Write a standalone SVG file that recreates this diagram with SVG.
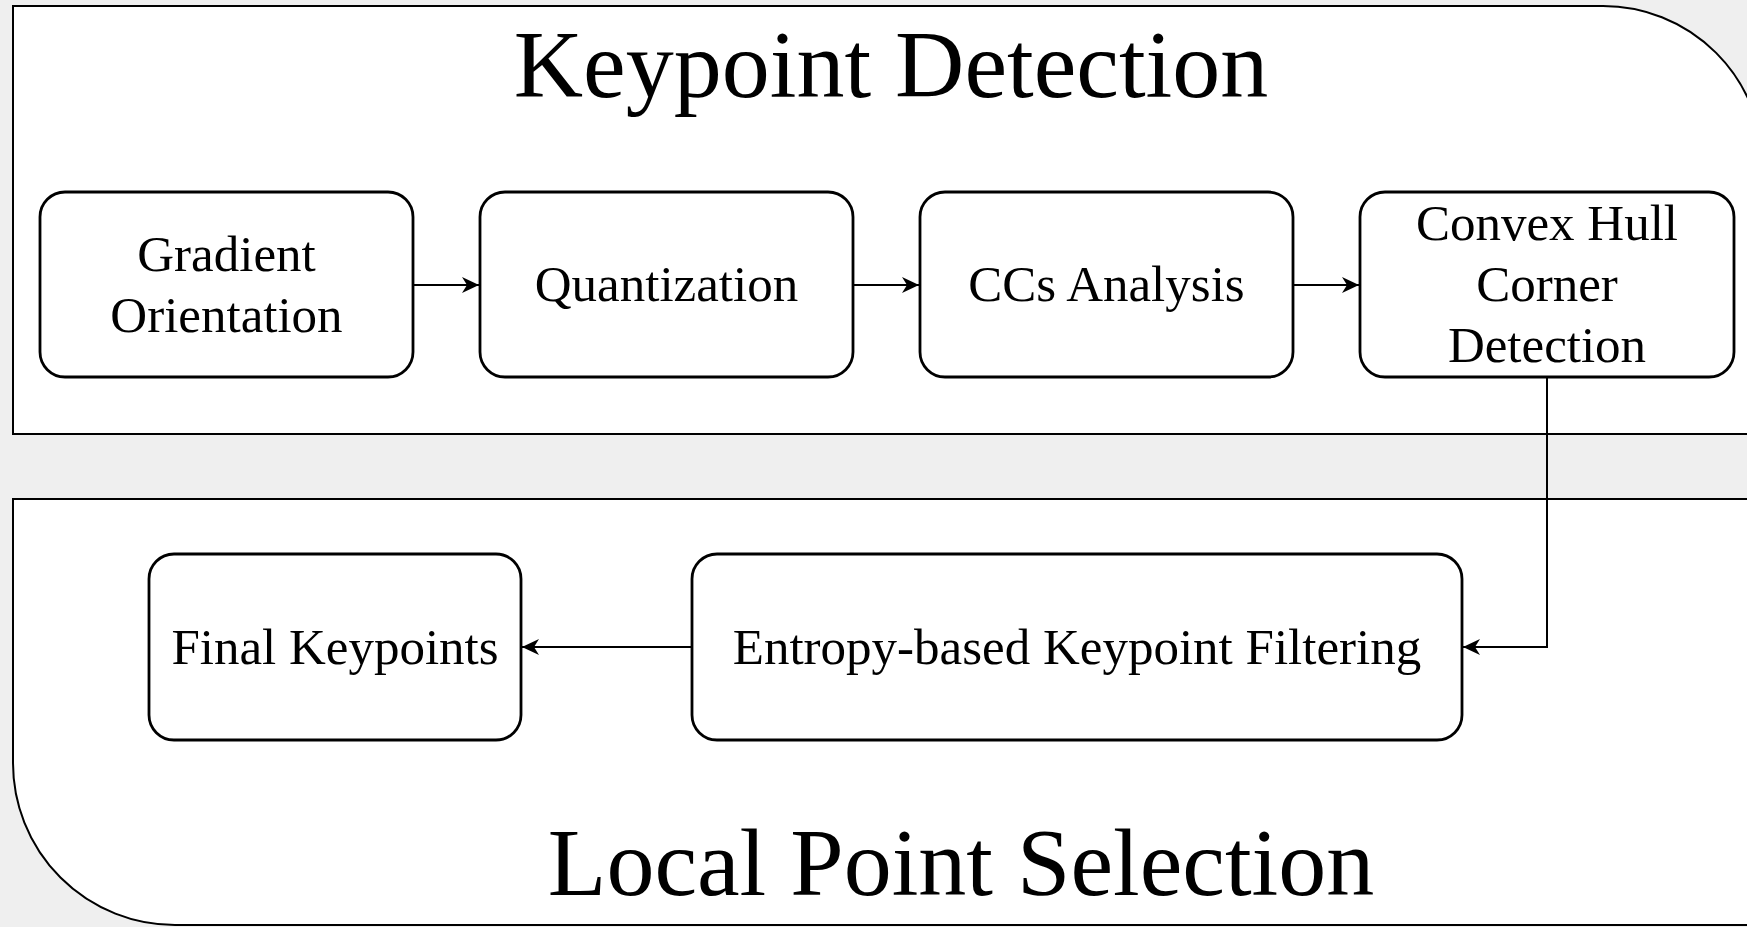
<svg xmlns="http://www.w3.org/2000/svg" width="1747" height="927" viewBox="0 0 1747 927">
  <defs>
    <marker id="arrow" markerUnits="userSpaceOnUse" markerWidth="20" markerHeight="20" viewBox="-18 -10 20 20" refX="0" refY="0" orient="auto">
      <path d="M0,0 L-17,-8 L-12,0 L-17,8 Z" fill="#000"/>
    </marker>
  </defs>
  <style>
    .panel { fill: #ffffff; stroke: #000; stroke-width: 2; }
    .node rect { fill: #ffffff; stroke: #000; stroke-width: 2.8; }
    .label { font-family: "Liberation Serif", "Times New Roman", serif; font-size: 51px; fill: #000; text-anchor: middle; }
    .title { font-family: "Liberation Serif", "Times New Roman", serif; font-size: 96px; fill: #000; text-anchor: middle; }
    .edge { fill: none; stroke: #000; stroke-width: 2; marker-end: url(#arrow); }
  </style>
  <rect x="0" y="0" width="1747" height="927" fill="#efefef"/>

  <g id="panel-keypoint-detection">
    <path class="panel" d="M13,6 H1603 A160,160 0 0 1 1763,166 V434 H13 Z"/>
    <text class="title" x="891" y="97">Keypoint Detection</text>
  </g>
  <g id="panel-local-point-selection">
    <path class="panel" d="M13,499 H1770 V925 H175 A162,162 0 0 1 13,763 Z"/>
    <text class="title" x="961" y="895">Local Point Selection</text>
  </g>

  <g id="node-gradient" class="node">
    <rect x="40" y="192" width="373" height="185" rx="25" ry="25"/>
    <text class="label" x="226.5" y="270.5">Gradient</text>
    <text class="label" x="226.5" y="331.5">Orientation</text>
  </g>
  <g id="node-quantization" class="node">
    <rect x="480" y="192" width="373" height="185" rx="25" ry="25"/>
    <text class="label" x="666.5" y="301">Quantization</text>
  </g>
  <g id="node-ccs" class="node">
    <rect x="920" y="192" width="373" height="185" rx="25" ry="25"/>
    <text class="label" x="1106.5" y="301">CCs Analysis</text>
  </g>
  <g id="node-convex" class="node">
    <rect x="1360" y="192" width="374" height="185" rx="25" ry="25"/>
    <text class="label" x="1547" y="240">Convex Hull</text>
    <text class="label" x="1547" y="301">Corner</text>
    <text class="label" x="1547" y="362">Detection</text>
  </g>
  <g id="node-entropy" class="node">
    <rect x="692" y="554" width="770" height="186" rx="25" ry="25"/>
    <text class="label" x="1077" y="663.5">Entropy-based Keypoint Filtering</text>
  </g>
  <g id="node-final" class="node">
    <rect x="149" y="554" width="372" height="186" rx="25" ry="25"/>
    <text class="label" x="335" y="663.5">Final Keypoints</text>
  </g>

  <g id="connectors">
    <path class="edge" d="M413,285 H479"/>
    <path class="edge" d="M853,285 H919"/>
    <path class="edge" d="M1293,285 H1359"/>
    <path class="edge" d="M1547,377 V647 H1463"/>
    <path class="edge" d="M692,647 H522"/>
  </g>
</svg>
